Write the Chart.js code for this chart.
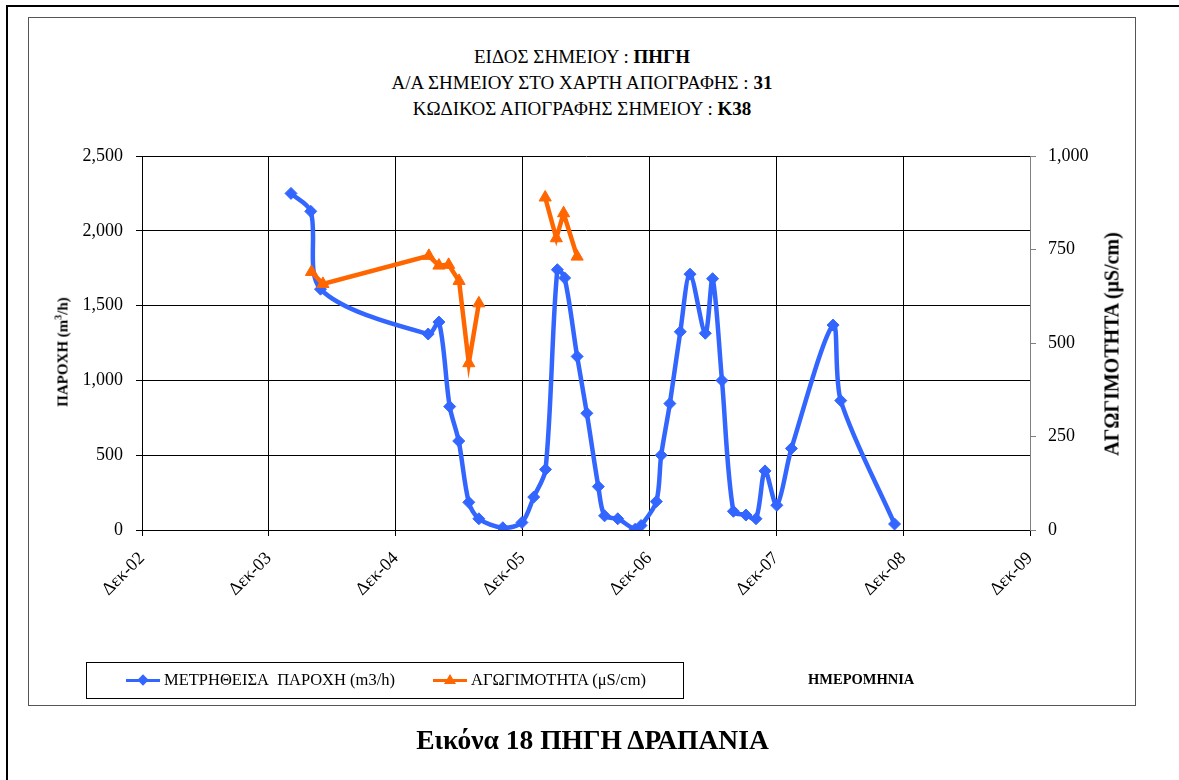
<!DOCTYPE html>
<html>
<head>
<meta charset="utf-8">
<script src="https://cdn.jsdelivr.net/npm/chart.js@4.4.0/dist/chart.umd.min.js"></script>
<style>
  html, body { margin: 0; padding: 0; background: #fff; }
  #wrap { position: relative; width: 1179px; height: 780px; overflow: hidden; font-family: 'Liberation Serif', 'Times New Roman', serif; color: #000; }
  #c { position: absolute; left: 0; top: 0; }
  .abs { position: absolute; white-space: nowrap; }
  .outer { left: 6px; top: 5px; width: 1190px; height: 800px; border: 2px solid #000; box-sizing: border-box; }
  .inner { left: 28px; top: 17px; width: 1108px; height: 689px; border: 1px solid #555; box-sizing: border-box; }
  .title { left: 28px; width: 1108px; text-align: center; font-size: 19px; line-height: 26px; }
  .ytitle { font-weight: bold; transform: translate(-50%, -50%) rotate(-90deg); }
  .legend { left: 86px; top: 662px; width: 598px; height: 37px; border: 1px solid #000; box-sizing: border-box; }
  .leg-text { font-size: 16.5px; top: 670px; line-height: 20px; }
  .leg-line { height: 3px; top: 679px; width: 34px; }
  .diamond { width: 8px; height: 8px; background: #3366FF; transform: rotate(45deg); top: 676px; left: 139px; }
  .tri { width: 0; height: 0; border-left: 6px solid transparent; border-right: 6px solid transparent; border-bottom: 10px solid #FF6600; top: 674px; left: 444px; }
</style>
</head>
<body>
<div id="wrap">
  <div class="abs outer"></div>
  <div class="abs inner"></div>

  <div class="abs title" style="top:44px">ΕΙΔΟΣ ΣΗΜΕΙΟΥ : <b>ΠΗΓΗ</b></div>
  <div class="abs title" style="top:70px">Α/Α ΣΗΜΕΙΟΥ ΣΤΟ ΧΑΡΤΗ ΑΠΟΓΡΑΦΗΣ : <b>31</b></div>
  <div class="abs title" style="top:96px">ΚΩΔΙΚΟΣ ΑΠΟΓΡΑΦΗΣ ΣΗΜΕΙΟΥ : <b>K38</b></div>

  <canvas id="c" width="1179" height="780"></canvas>

  <div class="abs ytitle" style="left:62px; top:352px; font-size:15px">ΠΑΡΟΧΗ (m<sup style="font-size:10px">3</sup>/h)</div>
  <div class="abs ytitle" style="left:1112px; top:344px; font-size:20px">ΑΓΩΓΙΜΟΤΗΤΑ (μS/cm)</div>

  <div class="abs legend"></div>
  <div class="abs leg-line" style="left:126px; background:#3366FF"></div>
  <div class="abs diamond"></div>
  <div class="abs leg-text" style="left:164px">ΜΕΤΡΗΘΕΙΣΑ&nbsp; ΠΑΡΟΧΗ (m3/h)</div>
  <div class="abs leg-line" style="left:433px; background:#FF6600"></div>
  <div class="abs tri"></div>
  <div class="abs leg-text" style="left:471px">ΑΓΩΓΙΜΟΤΗΤΑ (μS/cm)</div>
  <div class="abs" style="left:808px; top:670px; font-size:14.5px; font-weight:bold; line-height:18px">ΗΜΕΡΟΜΗΝΙΑ</div>

  <div class="abs" style="left:6px; width:1173px; top:722px; text-align:center; font-size:27.5px; font-weight:bold; line-height:36px">Εικόνα 18 ΠΗΓΗ ΔΡΑΠΑΝΙΑ</div>
</div>

<script>
// μετρηθείσα παροχή (m3/h)
const flowDates = [
    '2004-02-03', '2004-03-31', '2004-04-28', '2005-03-04', '2005-04-04', '2005-05-05',
    '2005-05-31', '2005-06-29', '2005-07-28', '2005-10-05', '2005-11-29', '2006-01-02',
    '2006-02-05', '2006-03-11', '2006-04-01', '2006-05-07', '2006-06-04', '2006-07-07',
    '2006-07-25', '2006-09-01', '2006-10-21', '2006-11-07', '2006-12-21', '2007-01-04',
    '2007-01-29', '2007-02-28', '2007-03-28', '2007-05-11', '2007-06-01', '2007-06-28',
    '2007-07-31', '2007-09-05', '2007-10-04', '2007-10-30', '2007-12-03', '2008-01-14',
    '2008-05-13', '2008-06-04', '2008-11-06'
];
const flowValues = [
    2250, 2130, 1610, 1310, 1390, 825,
    595, 185, 75, 15, 50, 220,
    405, 1740, 1685, 1160, 780, 290,
    95, 75, 5, 30, 190, 500,
    845, 1325, 1710, 1315, 1680, 1000,
    125, 100, 75, 395, 165, 545,
    1370, 865, 40
];

// αγωγιμότητα (μS/cm), null = κενό στη σειρά
const condDates = [
    '2004-04-02', '2004-05-05', '2005-03-06', '2005-04-04', '2005-05-02', '2005-06-01',
    '2005-06-29', '2005-07-28', '2005-11-01', '2006-02-04', '2006-03-08', '2006-03-29',
    '2006-05-07'
];
const condValues = [
    690, 658, 733, 707, 709, 666,
    446, 606, null, 889, 780, 847,
    731
];

const xTickDates = ['2002-12-01', '2003-12-01', '2004-12-01', '2005-12-01', '2006-12-01', '2007-12-01', '2008-12-01', '2009-12-01'];
const xTickLabels = ['Δεκ-02', 'Δεκ-03', 'Δεκ-04', 'Δεκ-05', 'Δεκ-06', 'Δεκ-07', 'Δεκ-08', 'Δεκ-09'];
const flowTicks = [0, 500, 1000, 1500, 2000, 2500];
const condTicks = [0, 250, 500, 750, 1000];

const serif = "'Liberation Serif', 'Times New Roman', serif";
const toPoints = (dates, vals) => dates.map((d, i) => ({ x: Date.parse(d), y: vals[i] }));
const fmt = v => Number(v).toLocaleString('en-US');

// plot area: 142..1030 x 156..530
new Chart(document.getElementById('c'), {
    type: 'line',
    data: {
        datasets: [
            {
                label: 'ΜΕΤΡΗΘΕΙΣΑ ΠΑΡΟΧΗ (m3/h)',
                data: toPoints(flowDates, flowValues),
                yAxisID: 'y',
                borderColor: '#3366FF',
                backgroundColor: '#3366FF',
                borderWidth: 4.5,
                tension: 0.3,
                pointStyle: 'rectRot',
                pointRadius: 6,
                pointBorderWidth: 1,
                order: 2
            },
            {
                label: 'ΑΓΩΓΙΜΟΤΗΤΑ (μS/cm)',
                data: toPoints(condDates, condValues),
                yAxisID: 'y2',
                borderColor: '#FF6600',
                backgroundColor: '#FF6600',
                borderWidth: 4.5,
                tension: 0,
                spanGaps: false,
                pointStyle: 'triangle',
                pointRadius: 7,
                pointBorderWidth: 1,
                order: 1
            }
        ]
    },
    options: {
        responsive: false,
        animation: false,
        layout: { padding: { top: 156, left: 0, right: 0, bottom: 0 } },
        plugins: {
            legend: { display: false },
            tooltip: { enabled: false }
        },
        scales: {
            x: {
                type: 'linear',
                min: Date.parse(xTickDates[0]),
                max: Date.parse(xTickDates[xTickDates.length - 1]),
                afterBuildTicks: s => { s.ticks = xTickDates.map(d => ({ value: Date.parse(d) })); },
                afterFit: s => { s.height = 250; },
                ticks: {
                    autoSkip: false,
                    minRotation: 45,
                    maxRotation: 45,
                    padding: 12,
                    color: '#000',
                    font: { family: serif, size: 18 },
                    callback: (v, i) => xTickLabels[i]
                },
                grid: { color: '#000', lineWidth: 1, tickLength: 6 },
                border: { color: '#000', width: 1 }
            },
            y: {
                position: 'left',
                min: 0,
                max: 2500,
                afterBuildTicks: s => { s.ticks = flowTicks.map(v => ({ value: v })); },
                afterFit: s => { s.width = 142; },
                ticks: {
                    padding: 13,
                    color: '#000',
                    font: { family: serif, size: 18 },
                    callback: v => fmt(v)
                },
                grid: { color: '#000', lineWidth: 1, tickLength: 6 },
                border: { color: '#000', width: 1 }
            },
            y2: {
                position: 'right',
                min: 0,
                max: 1000,
                afterBuildTicks: s => { s.ticks = condTicks.map(v => ({ value: v })); },
                afterFit: s => { s.width = 149; },
                ticks: {
                    padding: 12,
                    color: '#000',
                    font: { family: serif, size: 18 },
                    callback: v => fmt(v)
                },
                grid: { drawOnChartArea: false, color: '#808080', tickLength: 6 },
                border: { color: '#808080', width: 1 }
            }
        }
    }
});
</script>
</body>
</html>
